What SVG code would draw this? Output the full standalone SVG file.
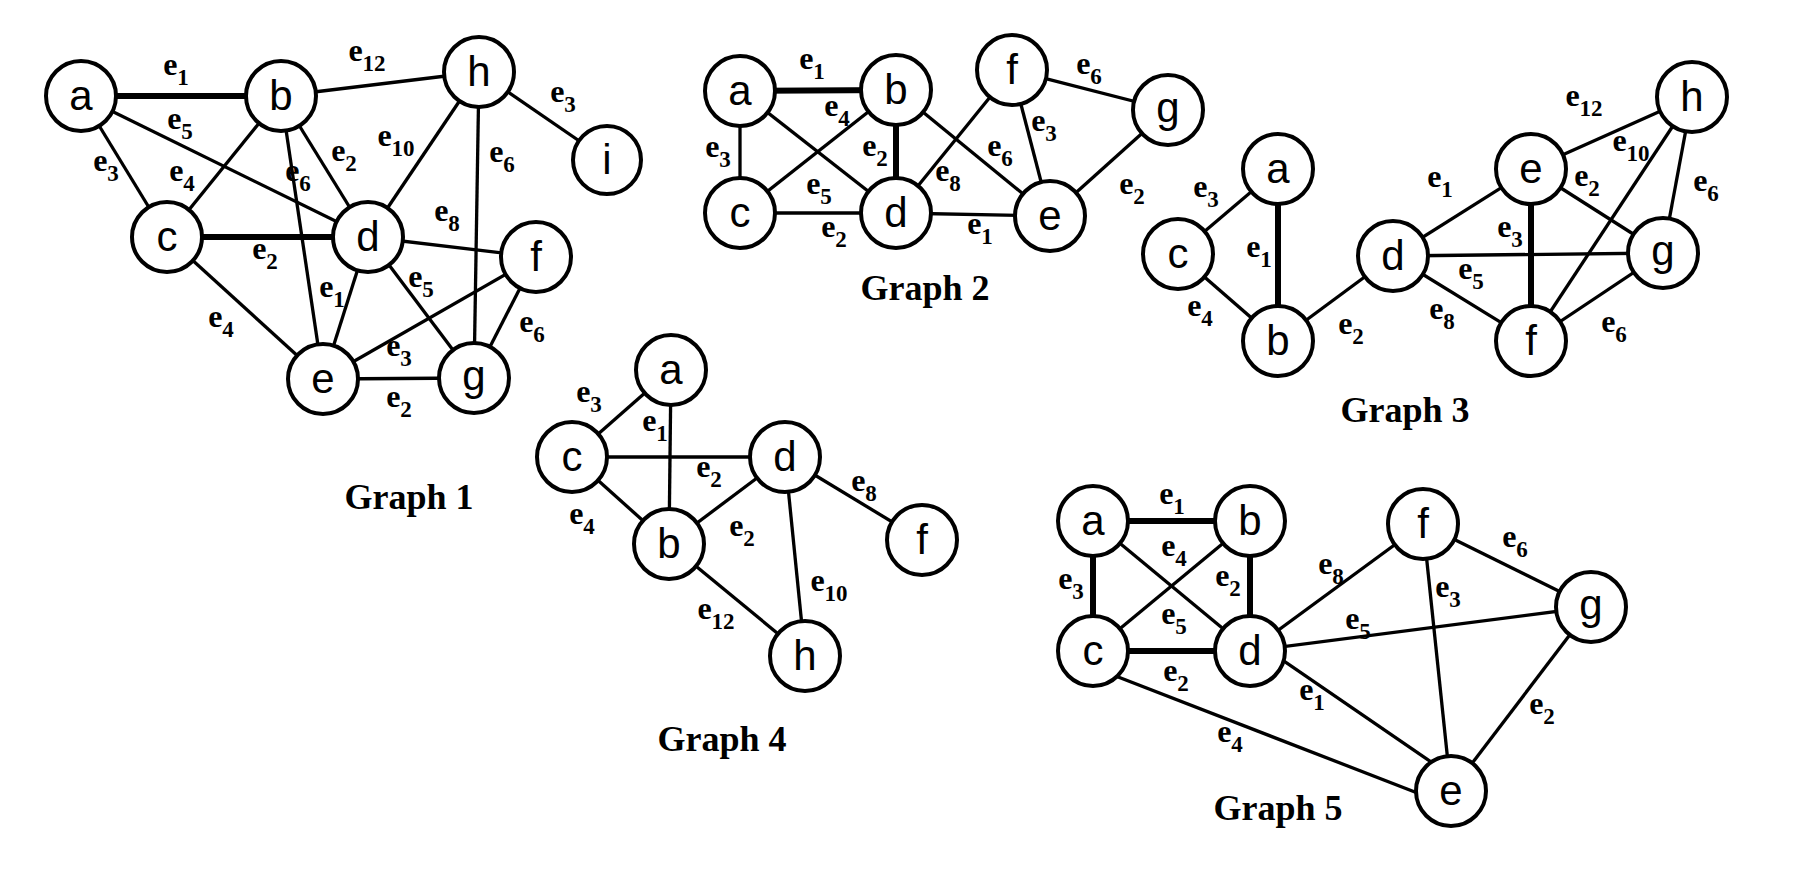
<svg xmlns="http://www.w3.org/2000/svg" width="1808" height="876" viewBox="0 0 1808 876">
<style>
.e{stroke:#000;stroke-width:3.3;fill:none}
.t{stroke:#000;stroke-width:6;fill:none}
.n circle{fill:#fff;stroke:#000;stroke-width:4}
.n text{font-family:"Liberation Sans",Arial,sans-serif;font-size:42px;text-anchor:middle;fill:#000}
.lb{font-family:"Liberation Serif","Times New Roman",serif;font-size:32px;font-weight:bold;text-anchor:middle;fill:#000}
.lb tspan{font-size:23px}
.ttl{font-family:"Liberation Serif","Times New Roman",serif;font-size:36px;font-weight:bold;text-anchor:middle;fill:#000}
</style>
<rect width="1808" height="876" fill="#fff"/>

<!-- Graph 1 -->
<g id="g1-connectors">
<line class="t" x1="81" y1="96" x2="281" y2="96"/>
<line class="e" x1="81" y1="96" x2="167" y2="237"/>
<line class="e" x1="81" y1="96" x2="368" y2="237"/>
<line class="e" x1="281" y1="96" x2="167" y2="237"/>
<line class="e" x1="281" y1="96" x2="323" y2="379"/>
<line class="e" x1="281" y1="96" x2="368" y2="237"/>
<line class="e" x1="281" y1="96" x2="479" y2="72"/>
<line class="e" x1="479" y1="72" x2="368" y2="237"/>
<line class="e" x1="479" y1="72" x2="474" y2="378"/>
<line class="e" x1="479" y1="72" x2="607" y2="160"/>
<line class="t" x1="167" y1="237" x2="368" y2="237"/>
<line class="e" x1="167" y1="237" x2="323" y2="379"/>
<line class="e" x1="368" y1="237" x2="536" y2="257"/>
<line class="e" x1="368" y1="237" x2="323" y2="379"/>
<line class="e" x1="368" y1="237" x2="474" y2="378"/>
<line class="e" x1="323" y1="379" x2="536" y2="257"/>
<line class="e" x1="323" y1="379" x2="474" y2="378"/>
<line class="e" x1="536" y1="257" x2="474" y2="378"/>
</g>
<g id="g1-labels">
<text class="lb" x="176" y="75">e<tspan dy="10">1</tspan></text>
<text class="lb" x="180" y="129">e<tspan dy="10">5</tspan></text>
<text class="lb" x="106" y="171">e<tspan dy="10">3</tspan></text>
<text class="lb" x="182" y="181">e<tspan dy="10">4</tspan></text>
<text class="lb" x="298" y="181">e<tspan dy="10">6</tspan></text>
<text class="lb" x="344" y="161">e<tspan dy="10">2</tspan></text>
<text class="lb" x="367" y="61">e<tspan dy="10">12</tspan></text>
<text class="lb" x="396" y="146">e<tspan dy="10">10</tspan></text>
<text class="lb" x="502" y="162">e<tspan dy="10">6</tspan></text>
<text class="lb" x="563" y="102">e<tspan dy="10">3</tspan></text>
<text class="lb" x="265" y="259">e<tspan dy="10">2</tspan></text>
<text class="lb" x="221" y="327">e<tspan dy="10">4</tspan></text>
<text class="lb" x="447" y="221">e<tspan dy="10">8</tspan></text>
<text class="lb" x="332" y="297">e<tspan dy="10">1</tspan></text>
<text class="lb" x="421" y="287">e<tspan dy="10">5</tspan></text>
<text class="lb" x="399" y="356">e<tspan dy="10">3</tspan></text>
<text class="lb" x="399" y="407">e<tspan dy="10">2</tspan></text>
<text class="lb" x="532" y="332">e<tspan dy="10">6</tspan></text>
</g>
<g id="g1-a" class="n"><circle cx="81" cy="96" r="35"/><text x="81" y="110">a</text></g>
<g id="g1-b" class="n"><circle cx="281" cy="96" r="35"/><text x="281" y="110">b</text></g>
<g id="g1-h" class="n"><circle cx="479" cy="72" r="35"/><text x="479" y="86">h</text></g>
<g id="g1-i" class="n"><circle cx="607" cy="160" r="34"/><text x="607" y="174">i</text></g>
<g id="g1-c" class="n"><circle cx="167" cy="237" r="35"/><text x="167" y="251">c</text></g>
<g id="g1-d" class="n"><circle cx="368" cy="237" r="35"/><text x="368" y="251">d</text></g>
<g id="g1-f" class="n"><circle cx="536" cy="257" r="35"/><text x="536" y="271">f</text></g>
<g id="g1-e" class="n"><circle cx="323" cy="379" r="35"/><text x="323" y="393">e</text></g>
<g id="g1-g" class="n"><circle cx="474" cy="378" r="35"/><text x="474" y="390">g</text></g>
<text id="title1" class="ttl" x="409" y="509">Graph 1</text>

<!-- Graph 2 -->
<g id="g2-connectors">
<line class="t" x1="740" y1="91" x2="896" y2="90"/>
<line class="e" x1="740" y1="91" x2="740" y2="213"/>
<line class="e" x1="740" y1="91" x2="896" y2="213"/>
<line class="e" x1="896" y1="90" x2="740" y2="213"/>
<line class="t" x1="896" y1="90" x2="896" y2="213"/>
<line class="e" x1="896" y1="90" x2="1050" y2="216"/>
<line class="e" x1="1012" y1="70" x2="896" y2="213"/>
<line class="e" x1="1012" y1="70" x2="1050" y2="216"/>
<line class="e" x1="1012" y1="70" x2="1168" y2="110"/>
<line class="e" x1="740" y1="213" x2="896" y2="213"/>
<line class="e" x1="896" y1="213" x2="1050" y2="216"/>
<line class="e" x1="1168" y1="110" x2="1050" y2="216"/>
</g>
<g id="g2-labels">
<text class="lb" x="812" y="69">e<tspan dy="10">1</tspan></text>
<text class="lb" x="718" y="157">e<tspan dy="10">3</tspan></text>
<text class="lb" x="819" y="194">e<tspan dy="10">5</tspan></text>
<text class="lb" x="837" y="116">e<tspan dy="10">4</tspan></text>
<text class="lb" x="875" y="156">e<tspan dy="10">2</tspan></text>
<text class="lb" x="1000" y="156">e<tspan dy="10">6</tspan></text>
<text class="lb" x="948" y="181">e<tspan dy="10">8</tspan></text>
<text class="lb" x="1044" y="131">e<tspan dy="10">3</tspan></text>
<text class="lb" x="1089" y="74">e<tspan dy="10">6</tspan></text>
<text class="lb" x="834" y="237">e<tspan dy="10">2</tspan></text>
<text class="lb" x="980" y="234">e<tspan dy="10">1</tspan></text>
<text class="lb" x="1132" y="194">e<tspan dy="10">2</tspan></text>
</g>
<g id="g2-a" class="n"><circle cx="740" cy="91" r="35"/><text x="740" y="105">a</text></g>
<g id="g2-b" class="n"><circle cx="896" cy="90" r="35"/><text x="896" y="104">b</text></g>
<g id="g2-f" class="n"><circle cx="1012" cy="70" r="35"/><text x="1012" y="84">f</text></g>
<g id="g2-g" class="n"><circle cx="1168" cy="110" r="35"/><text x="1168" y="122">g</text></g>
<g id="g2-c" class="n"><circle cx="740" cy="213" r="35"/><text x="740" y="227">c</text></g>
<g id="g2-d" class="n"><circle cx="896" cy="213" r="35"/><text x="896" y="227">d</text></g>
<g id="g2-e" class="n"><circle cx="1050" cy="216" r="35"/><text x="1050" y="230">e</text></g>
<text id="title2" class="ttl" x="925" y="300">Graph 2</text>

<!-- Graph 3 -->
<g id="g3-connectors">
<line class="e" x1="1278" y1="169" x2="1178" y2="254"/>
<line class="t" x1="1278" y1="169" x2="1278" y2="341"/>
<line class="e" x1="1178" y1="254" x2="1278" y2="341"/>
<line class="e" x1="1278" y1="341" x2="1393" y2="256"/>
<line class="e" x1="1393" y1="256" x2="1531" y2="169"/>
<line class="e" x1="1393" y1="256" x2="1663" y2="253"/>
<line class="e" x1="1393" y1="256" x2="1531" y2="341"/>
<line class="t" x1="1531" y1="169" x2="1531" y2="341"/>
<line class="e" x1="1531" y1="169" x2="1663" y2="253"/>
<line class="e" x1="1531" y1="169" x2="1692" y2="97"/>
<line class="e" x1="1692" y1="97" x2="1531" y2="341"/>
<line class="e" x1="1692" y1="97" x2="1663" y2="253"/>
<line class="e" x1="1531" y1="341" x2="1663" y2="253"/>
</g>
<g id="g3-labels">
<text class="lb" x="1206" y="197">e<tspan dy="10">3</tspan></text>
<text class="lb" x="1259" y="257">e<tspan dy="10">1</tspan></text>
<text class="lb" x="1200" y="316">e<tspan dy="10">4</tspan></text>
<text class="lb" x="1351" y="334">e<tspan dy="10">2</tspan></text>
<text class="lb" x="1440" y="187">e<tspan dy="10">1</tspan></text>
<text class="lb" x="1471" y="279">e<tspan dy="10">5</tspan></text>
<text class="lb" x="1442" y="319">e<tspan dy="10">8</tspan></text>
<text class="lb" x="1510" y="237">e<tspan dy="10">3</tspan></text>
<text class="lb" x="1587" y="186">e<tspan dy="10">2</tspan></text>
<text class="lb" x="1584" y="106">e<tspan dy="10">12</tspan></text>
<text class="lb" x="1631" y="151">e<tspan dy="10">10</tspan></text>
<text class="lb" x="1706" y="191">e<tspan dy="10">6</tspan></text>
<text class="lb" x="1614" y="332">e<tspan dy="10">6</tspan></text>
</g>
<g id="g3-a" class="n"><circle cx="1278" cy="169" r="35"/><text x="1278" y="183">a</text></g>
<g id="g3-c" class="n"><circle cx="1178" cy="254" r="35"/><text x="1178" y="268">c</text></g>
<g id="g3-b" class="n"><circle cx="1278" cy="341" r="35"/><text x="1278" y="355">b</text></g>
<g id="g3-d" class="n"><circle cx="1393" cy="256" r="35"/><text x="1393" y="270">d</text></g>
<g id="g3-e" class="n"><circle cx="1531" cy="169" r="35"/><text x="1531" y="183">e</text></g>
<g id="g3-h" class="n"><circle cx="1692" cy="97" r="35"/><text x="1692" y="111">h</text></g>
<g id="g3-g" class="n"><circle cx="1663" cy="253" r="35"/><text x="1663" y="265">g</text></g>
<g id="g3-f" class="n"><circle cx="1531" cy="341" r="35"/><text x="1531" y="355">f</text></g>
<text id="title3" class="ttl" x="1405" y="422">Graph 3</text>

<!-- Graph 4 -->
<g id="g4-connectors">
<line class="e" x1="572" y1="457" x2="671" y2="370"/>
<line class="e" x1="671" y1="370" x2="669" y2="544"/>
<line class="e" x1="572" y1="457" x2="785" y2="457"/>
<line class="e" x1="572" y1="457" x2="669" y2="544"/>
<line class="e" x1="785" y1="457" x2="669" y2="544"/>
<line class="e" x1="785" y1="457" x2="922" y2="540"/>
<line class="e" x1="785" y1="457" x2="805" y2="656"/>
<line class="e" x1="669" y1="544" x2="805" y2="656"/>
</g>
<g id="g4-labels">
<text class="lb" x="589" y="402">e<tspan dy="10">3</tspan></text>
<text class="lb" x="655" y="431">e<tspan dy="10">1</tspan></text>
<text class="lb" x="709" y="477">e<tspan dy="10">2</tspan></text>
<text class="lb" x="582" y="524">e<tspan dy="10">4</tspan></text>
<text class="lb" x="742" y="536">e<tspan dy="10">2</tspan></text>
<text class="lb" x="864" y="491">e<tspan dy="10">8</tspan></text>
<text class="lb" x="829" y="591">e<tspan dy="10">10</tspan></text>
<text class="lb" x="716" y="619">e<tspan dy="10">12</tspan></text>
</g>
<g id="g4-a" class="n"><circle cx="671" cy="370" r="35"/><text x="671" y="384">a</text></g>
<g id="g4-c" class="n"><circle cx="572" cy="457" r="35"/><text x="572" y="471">c</text></g>
<g id="g4-d" class="n"><circle cx="785" cy="457" r="35"/><text x="785" y="471">d</text></g>
<g id="g4-b" class="n"><circle cx="669" cy="544" r="35"/><text x="669" y="558">b</text></g>
<g id="g4-f" class="n"><circle cx="922" cy="540" r="35"/><text x="922" y="554">f</text></g>
<g id="g4-h" class="n"><circle cx="805" cy="656" r="35"/><text x="805" y="670">h</text></g>
<text id="title4" class="ttl" x="722" y="751">Graph 4</text>

<!-- Graph 5 -->
<g id="g5-connectors">
<line class="t" x1="1093" y1="521" x2="1250" y2="521"/>
<line class="t" x1="1093" y1="521" x2="1093" y2="651"/>
<line class="e" x1="1093" y1="521" x2="1250" y2="651"/>
<line class="e" x1="1250" y1="521" x2="1093" y2="651"/>
<line class="t" x1="1250" y1="521" x2="1250" y2="651"/>
<line class="t" x1="1093" y1="651" x2="1250" y2="651"/>
<line class="e" x1="1113" y1="675" x2="1420" y2="794"/>
<line class="e" x1="1250" y1="651" x2="1423" y2="524"/>
<line class="e" x1="1250" y1="651" x2="1591" y2="607"/>
<line class="e" x1="1262" y1="646" x2="1437" y2="766"/>
<line class="e" x1="1423" y1="524" x2="1451" y2="791"/>
<line class="e" x1="1423" y1="524" x2="1591" y2="607"/>
<line class="e" x1="1591" y1="607" x2="1451" y2="791"/>
</g>
<g id="g5-labels">
<text class="lb" x="1172" y="504">e<tspan dy="10">1</tspan></text>
<text class="lb" x="1071" y="589">e<tspan dy="10">3</tspan></text>
<text class="lb" x="1174" y="624">e<tspan dy="10">5</tspan></text>
<text class="lb" x="1174" y="556">e<tspan dy="10">4</tspan></text>
<text class="lb" x="1228" y="586">e<tspan dy="10">2</tspan></text>
<text class="lb" x="1176" y="681">e<tspan dy="10">2</tspan></text>
<text class="lb" x="1230" y="742">e<tspan dy="10">4</tspan></text>
<text class="lb" x="1331" y="574">e<tspan dy="10">8</tspan></text>
<text class="lb" x="1358" y="629">e<tspan dy="10">5</tspan></text>
<text class="lb" x="1312" y="700">e<tspan dy="10">1</tspan></text>
<text class="lb" x="1448" y="597">e<tspan dy="10">3</tspan></text>
<text class="lb" x="1515" y="547">e<tspan dy="10">6</tspan></text>
<text class="lb" x="1542" y="714">e<tspan dy="10">2</tspan></text>
</g>
<g id="g5-a" class="n"><circle cx="1093" cy="521" r="35"/><text x="1093" y="535">a</text></g>
<g id="g5-b" class="n"><circle cx="1250" cy="521" r="35"/><text x="1250" y="535">b</text></g>
<g id="g5-c" class="n"><circle cx="1093" cy="651" r="35"/><text x="1093" y="665">c</text></g>
<g id="g5-d" class="n"><circle cx="1250" cy="651" r="35"/><text x="1250" y="665">d</text></g>
<g id="g5-f" class="n"><circle cx="1423" cy="524" r="35"/><text x="1423" y="538">f</text></g>
<g id="g5-g" class="n"><circle cx="1591" cy="607" r="35"/><text x="1591" y="619">g</text></g>
<g id="g5-e" class="n"><circle cx="1451" cy="791" r="35"/><text x="1451" y="805">e</text></g>
<text id="title5" class="ttl" x="1278" y="820">Graph 5</text>
</svg>
